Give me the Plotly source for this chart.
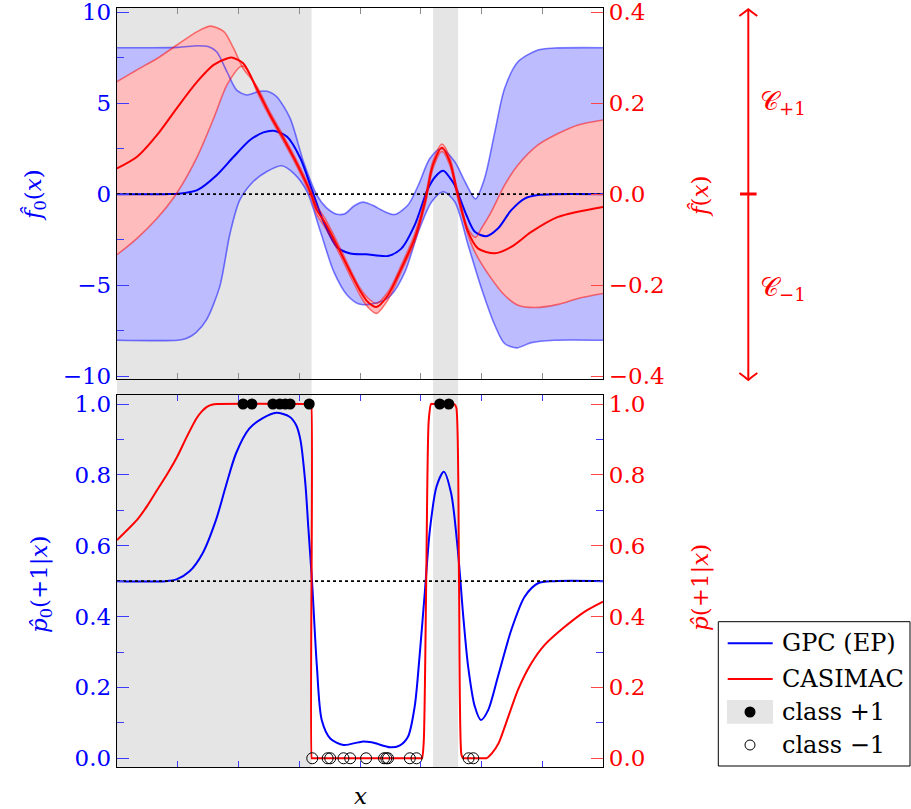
import plotly.graph_objects as go

# ---------------- data ----------------
shade_regions = [(0.0, 3.203), (5.203, 5.615)]

# top panel: GPC latent mean f0 and band (left axis)
x_f0_mean = [0, 0.8, 1.0, 1.32, 1.64, 1.92, 2.19, 2.41, 2.58, 2.8, 3.02, 3.21, 3.4, 3.62, 3.84, 4.1, 4.46,
             4.68, 4.9, 5.12, 5.25, 5.37, 5.48, 5.56, 5.73, 5.89, 6.08, 6.27, 6.49, 6.71, 6.93, 7.2, 8]
f0_mean = [0, 0, 0.02, 0.22, 1.04, 2.05, 2.97, 3.39, 3.48, 3.15, 1.96, 0.22, -1.52, -2.9, -3.26, -3.3, -3.39,
           -2.99, -1.70, 0.31, 1.0, 1.28, 0.9, 0.49, -0.97, -2.07, -2.31, -1.89, -0.88, -0.24, -0.05, 0, 0]

x_f0_upper = [0, 1.0, 1.32, 1.5, 1.64, 1.81, 1.97, 2.14, 2.3, 2.41, 2.52, 2.63, 2.85, 3.07, 3.29, 3.45, 3.62,
              3.75, 3.9, 4.05, 4.2, 4.4, 4.57, 4.79, 4.96, 5.15, 5.34, 5.56, 5.73, 5.9, 6.05, 6.22, 6.38, 6.6,
              6.93, 7.2, 8]
f0_upper = [8.04, 8.06, 8.15, 8.1, 7.82, 6.72, 5.71, 5.44, 5.6, 5.66, 5.6, 5.35, 4.16, 1.78, -0.05, -0.75, -1.1,
            -1.08, -0.65, -0.44, -0.6, -0.95, -1.12, -0.6, 0.49, 1.96, 2.51, 1.78, 0.68, -0.26, 0.86, 3.42, 5.8,
            7.27, 7.91, 8.02, 8.04]

x_f0_lower = [0, 1.0, 1.14, 1.3, 1.47, 1.69, 1.86, 2.02, 2.24, 2.46, 2.71, 2.91, 3.13, 3.35, 3.57, 3.79, 4.0,
              4.3, 4.51, 4.74, 4.96, 5.18, 5.37, 5.56, 5.78, 6.0, 6.22, 6.38, 6.58, 6.82, 7.2, 8]
f0_lower = [-8.02, -8.02, -7.93, -7.6, -6.92, -5.09, -2.16, -0.33, 0.68, 1.23, 1.56, 1.14, 0.13, -2.07, -4.27,
            -5.55, -6.05, -5.95, -5.55, -4.27, -2.07, -0.42, 0.13, -0.42, -2.8, -5.18, -7.2, -8.2, -8.44, -8.15,
            -8.02, -8.02]

# top panel: CASIMAC f and band (right axis)
x_f_mean = [0, 0.33, 0.66, 0.98, 1.32, 1.59, 1.81, 1.89, 2.08, 2.3, 2.52, 2.74, 2.96, 3.18, 3.29, 3.43, 3.62,
            3.84, 4.0, 4.13, 4.27, 4.46, 4.68, 4.9, 5.07, 5.2, 5.35, 5.48, 5.61, 5.78, 5.94, 6.22, 6.49, 6.82,
            7.26, 8]
f_mean = [0.0565, 0.082, 0.130, 0.188, 0.247, 0.284, 0.298, 0.300, 0.287, 0.232, 0.174, 0.122, 0.067, 0.005,
          -0.035, -0.064, -0.112, -0.171, -0.212, -0.237, -0.248, -0.222, -0.163, -0.097, -0.017, 0.064, 0.102,
          0.071, -0.002, -0.083, -0.119, -0.130, -0.116, -0.083, -0.050, -0.028]

x_f_upper = [0, 0.33, 0.66, 0.98, 1.32, 1.54, 1.76, 1.92, 2.08, 2.2, 2.3, 2.52, 2.74, 2.96, 3.18, 3.29, 3.43,
             3.62, 3.84, 4.0, 4.13, 4.27, 4.46, 4.68, 4.9, 5.07, 5.2, 5.35, 5.48, 5.61, 5.78, 5.9, 6.0, 6.16,
             6.38, 6.6, 6.93, 7.26, 7.59, 8]
f_upper = [0.247, 0.273, 0.298, 0.327, 0.357, 0.369, 0.357, 0.320, 0.275, 0.255, 0.237, 0.180, 0.128, 0.073,
           0.012, -0.026, -0.055, -0.104, -0.165, -0.206, -0.228, -0.240, -0.215, -0.156, -0.088, -0.008, 0.072,
           0.110, 0.080, 0.006, -0.076, -0.095, -0.075, -0.039, 0.020, 0.064, 0.108, 0.133, 0.152, 0.163]

x_f_lower = [0, 0.33, 0.66, 0.98, 1.32, 1.59, 1.81, 2.03, 2.1, 2.2, 2.3, 2.52, 2.74, 2.96, 3.18, 3.29, 3.43,
             3.62, 3.84, 4.0, 4.13, 4.27, 4.46, 4.68, 4.9, 5.07, 5.2, 5.35, 5.48, 5.61, 5.78, 5.89, 6.16, 6.38,
             6.6, 6.88, 7.26, 7.59, 8]
f_lower = [-0.133, -0.097, -0.053, 0.0015, 0.082, 0.166, 0.240, 0.280, 0.280, 0.260, 0.226, 0.168, 0.116, 0.061,
           -0.002, -0.045, -0.074, -0.120, -0.180, -0.222, -0.248, -0.262, -0.232, -0.170, -0.105, -0.025, 0.056,
           0.094, 0.063, -0.010, -0.090, -0.127, -0.185, -0.222, -0.244, -0.249, -0.242, -0.229, -0.218]

# bottom panel: probabilities
x_p0 = [0, 0.8, 0.98, 1.19, 1.41, 1.63, 1.79, 1.96, 2.18, 2.40, 2.62, 2.84, 2.95, 3.02, 3.1, 3.15, 3.21, 3.29,
        3.37, 3.51, 3.73, 4.03, 4.19, 4.5, 4.65, 4.79, 4.9, 4.98, 5.07, 5.15, 5.26, 5.38, 5.5, 5.61, 5.7, 5.78,
        5.89, 5.99, 6.11, 6.27, 6.49, 6.71, 6.93, 7.2, 8]
p0 = [0.5, 0.5, 0.505, 0.527, 0.579, 0.673, 0.767, 0.861, 0.931, 0.960, 0.975, 0.964, 0.94, 0.898, 0.776, 0.65,
      0.5, 0.26, 0.108, 0.056, 0.0375, 0.047, 0.045, 0.031, 0.036, 0.061, 0.146, 0.287, 0.475, 0.644, 0.767,
      0.809, 0.748, 0.588, 0.400, 0.259, 0.146, 0.108, 0.136, 0.230, 0.362, 0.456, 0.494, 0.5, 0.5]

x_p = [0, 0.16, 0.33, 0.5, 0.66, 0.83, 0.99, 1.15, 1.31, 1.4, 1.48, 1.56, 1.65, 3.19, 3.198, 3.206, 3.214,
       4.98, 5.02, 5.05, 5.09, 5.13, 5.17, 5.21, 5.55, 5.585, 5.63, 5.67, 5.70, 5.74, 6.04, 6.08, 6.17, 6.28,
       6.44, 6.60, 6.82, 7.04, 7.37, 7.70, 8]
p = [0.616, 0.643, 0.673, 0.713, 0.757, 0.803, 0.851, 0.908, 0.960, 0.980, 0.992, 0.998, 1.0, 1.0, 1.0, 0.0, 0.0,
     0.0, 0.0, 0.05, 0.5, 0.95, 1.0, 1.0, 1.0, 0.99, 0.5, 0.01, 0.0, 0.0, 0.0, 0.0, 0.014, 0.042, 0.117, 0.193,
     0.268, 0.320, 0.371, 0.414, 0.442]

x_class_pos = [2.075, 2.22, 2.566, 2.68, 2.77, 2.85, 3.164, 5.313, 5.461]
x_class_neg = [3.214, 3.467, 3.51, 3.728, 3.838, 4.10, 4.395, 4.433, 4.461, 4.82, 4.93, 5.788, 5.865]

left_ticks_top = [-10, -5, 0, 5, 10]
left_ticktext_top = ["\u221210", "\u22125", "0", "5", "10"]
right_ticks_top = [-0.4, -0.2, 0.0, 0.2, 0.4]
right_ticktext_top = ["\u22120.4", "\u22120.2", "0.0", "0.2", "0.4"]
p_ticks = [0, 0.2, 0.4, 0.6, 0.8, 1.0]
p_ticktext = ["0.0", "0.2", "0.4", "0.6", "0.8", "1.0"]

# ---------------- geometry helpers ----------------
W, H = 911, 809
L, R, T, B = 117, 308, 8, 42
PW, PH = W - L - R, H - T - B


def px(x):
    return (x - L) / PW


def py(y):
    return (H - B - y) / PH


FONT = "DejaVu Serif"
FS = 23
BLUE = "#0000ff"
RED = "#ff0000"
BLUE_FILL = "rgb(188,188,255)"
RED_FILL = "rgb(255,188,188)"
BLUE_EDGE = "rgba(0,0,255,0.5)"
RED_EDGE = "rgba(255,0,0,0.5)"
GREY = "#e5e5e5"

fig = go.Figure()

sp = dict(shape="spline", smoothing=0.8)

# --- top panel fills
fig.add_trace(go.Scatter(x=x_f0_lower, y=f0_lower, xaxis="x", yaxis="y", mode="lines",
                         line=dict(width=0, **sp), showlegend=False, hoverinfo="skip"))
fig.add_trace(go.Scatter(x=x_f0_upper, y=f0_upper, xaxis="x", yaxis="y", mode="lines", fill="tonexty",
                         fillcolor=BLUE_FILL, line=dict(width=0, **sp), showlegend=False, hoverinfo="skip"))
fig.add_trace(go.Scatter(x=x_f_lower, y=f_lower, xaxis="x", yaxis="y2", mode="lines",
                         line=dict(width=0, **sp), showlegend=False, hoverinfo="skip"))
fig.add_trace(go.Scatter(x=x_f_upper, y=f_upper, xaxis="x", yaxis="y2", mode="lines", fill="tonexty",
                         fillcolor=RED_FILL, line=dict(width=0, **sp), showlegend=False, hoverinfo="skip"))

# --- top panel blue lines (overlay axis y5 = same scale as y)
fig.add_trace(go.Scatter(x=x_f0_upper, y=f0_upper, xaxis="x", yaxis="y5", mode="lines",
                         line=dict(color=BLUE_EDGE, width=1.6, **sp), showlegend=False))
fig.add_trace(go.Scatter(x=x_f0_lower, y=f0_lower, xaxis="x", yaxis="y5", mode="lines",
                         line=dict(color=BLUE_EDGE, width=1.6, **sp), showlegend=False))
fig.add_trace(go.Scatter(x=x_f0_mean, y=f0_mean, xaxis="x", yaxis="y5", mode="lines",
                         line=dict(color=BLUE, width=2, **sp), name="GPC (EP)", showlegend=False))
fig.add_trace(go.Scatter(x=[0, 8], y=[0, 0], xaxis="x", yaxis="y5", mode="lines",
                         line=dict(color="black", width=1.6, dash="dot"), showlegend=False))

# --- top panel red lines (overlay axis y6 = same scale as y2)
fig.add_trace(go.Scatter(x=x_f_upper, y=f_upper, xaxis="x", yaxis="y6", mode="lines",
                         line=dict(color=RED_EDGE, width=1.6, **sp), showlegend=False))
fig.add_trace(go.Scatter(x=x_f_lower, y=f_lower, xaxis="x", yaxis="y6", mode="lines",
                         line=dict(color=RED_EDGE, width=1.6, **sp), showlegend=False))
fig.add_trace(go.Scatter(x=x_f_mean, y=f_mean, xaxis="x", yaxis="y6", mode="lines",
                         line=dict(color=RED, width=2, **sp), name="CASIMAC", showlegend=False))

# --- bottom panel
fig.add_trace(go.Scatter(x=x_p0, y=p0, xaxis="x2", yaxis="y3", mode="lines",
                         line=dict(color=BLUE, width=2, **sp), showlegend=False))
fig.add_trace(go.Scatter(x=[0, 8], y=[0.5, 0.5], xaxis="x2", yaxis="y3", mode="lines",
                         line=dict(color="black", width=1.6, dash="dot"), showlegend=False))
fig.add_trace(go.Scatter(x=x_p, y=p, xaxis="x2", yaxis="y4", mode="lines",
                         line=dict(color=RED, width=2, shape="spline", smoothing=0.6), showlegend=False))
fig.add_trace(go.Scatter(x=x_class_pos, y=[1.0] * len(x_class_pos), xaxis="x2", yaxis="y4", mode="markers",
                         marker=dict(color="black", size=11, line=dict(width=0)), cliponaxis=False,
                         showlegend=False))
fig.add_trace(go.Scatter(x=x_class_neg, y=[0.0] * len(x_class_neg), xaxis="x2", yaxis="y4", mode="markers",
                         marker=dict(symbol="circle-open", color="black", size=11, line=dict(width=1)),
                         cliponaxis=False, showlegend=False))

# ---------------- axes ----------------
top_dom = [py(379.3), 1.0]
bot_dom = [0.0, py(395.0)]
top_range = [-10.165, 10.22]
top_range_r = [v * 0.04 for v in top_range]
bot_range = [-0.0246, 1.0254]

xcommon = dict(range=[0, 8], tickvals=[1, 2, 3, 4, 5, 6, 7], showticklabels=False, ticks="inside",
               ticklen=6, tickwidth=1, showline=True, linecolor="black", linewidth=1.4, mirror="ticks",
               showgrid=False, zeroline=False, domain=[0, 1])
ycommon = dict(showgrid=False, zeroline=False, ticks="inside", ticklen=12, tickwidth=1, showline=True,
               linecolor="black", linewidth=1.4, ticklabelstandoff=0, ticklabeloverflow="allow")

fig.update_layout(
    width=W, height=H,
    margin=dict(l=L, r=R, t=T, b=B, pad=0, autoexpand=False),
    paper_bgcolor="white", plot_bgcolor="rgba(0,0,0,0)",
    showlegend=False,
    font=dict(family=FONT, size=FS),
    xaxis=dict(anchor="y", tickcolor="#8c8c8c", **xcommon),
    xaxis2=dict(anchor="y3", tickcolor="rgb(60,60,255)", **xcommon),
    yaxis=dict(domain=top_dom, anchor="x", range=top_range, tickvals=left_ticks_top,
               ticktext=left_ticktext_top, tickcolor="rgb(60,60,255)",
               minor=dict(tickvals=[-7.5, -2.5, 2.5, 7.5], ticks="inside", ticklen=7, tickcolor="rgb(60,60,255)"),
               tickfont=dict(family=FONT, size=FS, color=BLUE), **ycommon),
    yaxis2=dict(domain=top_dom, anchor="x", overlaying="y", side="right", range=top_range_r,
                tickvals=right_ticks_top, ticktext=right_ticktext_top, tickcolor="rgb(255,70,70)",
                tickfont=dict(family=FONT, size=FS, color=RED), **ycommon),
    yaxis5=dict(domain=top_dom, anchor="x", overlaying="y", range=top_range, visible=False),
    yaxis6=dict(domain=top_dom, anchor="x", overlaying="y", range=top_range_r, visible=False),
    yaxis3=dict(domain=bot_dom, anchor="x2", range=bot_range, tickvals=p_ticks, ticktext=p_ticktext,
                tickcolor="rgb(60,60,255)", mirror="ticks",
                minor=dict(tickvals=[0.1, 0.3, 0.5, 0.7, 0.9], ticks="inside", ticklen=7,
                           tickcolor="rgb(60,60,255)"),
                tickfont=dict(family=FONT, size=FS, color=BLUE), **ycommon),
    yaxis4=dict(domain=bot_dom, anchor="x2", overlaying="y3", side="right", range=bot_range,
                tickvals=p_ticks, ticktext=p_ticktext, tickcolor="rgb(255,70,70)",
                tickfont=dict(family=FONT, size=FS, color=RED), **ycommon),
)

shapes = []
for a, b in shade_regions:
    shapes.append(dict(type="rect", xref="x", yref="paper", x0=a, x1=b, y0=0, y1=1,
                       fillcolor=GREY, line=dict(width=0), layer="below"))

# class arrow on the right
ax = px(748.3)
shapes.append(dict(type="line", xref="paper", yref="paper", x0=ax, x1=ax, y0=py(10), y1=py(379.5),
                   line=dict(color=RED, width=2)))
shapes.append(dict(type="line", xref="paper", yref="paper", x0=px(740), x1=px(756.6), y0=py(194), y1=py(194),
                   line=dict(color=RED, width=3)))
shapes.append(dict(type="path", xref="paper", yref="paper",
                   path=f"M {px(739.3)},{py(16)} Q {px(745)},{py(12)} {ax},{py(9.3)} Q {px(751.6)},{py(12)} {px(757.3)},{py(16)}",
                   line=dict(color=RED, width=2)))
shapes.append(dict(type="path", xref="paper", yref="paper",
                   path=f"M {px(739.3)},{py(373)} Q {px(745)},{py(377)} {ax},{py(380)} Q {px(751.6)},{py(377)} {px(757.3)},{py(373)}",
                   line=dict(color=RED, width=2)))

# legend box (manual)
shapes.append(dict(type="rect", xref="paper", yref="paper", x0=px(718.3), x1=px(910), y0=py(766), y1=py(621.7),
                   fillcolor="white", line=dict(color="black", width=1)))
shapes.append(dict(type="line", xref="paper", yref="paper", x0=px(727.7), x1=px(772.7), y0=py(643.3),
                   y1=py(643.3), line=dict(color=BLUE, width=2)))
shapes.append(dict(type="line", xref="paper", yref="paper", x0=px(727.7), x1=px(772.7), y0=py(679),
                   y1=py(679), line=dict(color=RED, width=2)))
shapes.append(dict(type="rect", xref="paper", yref="paper", x0=px(727), x1=px(773), y0=py(723.7), y1=py(700),
                   fillcolor=GREY, line=dict(width=0)))
shapes.append(dict(type="circle", xref="paper", yref="paper", x0=px(750 - 5.5), x1=px(750 + 5.5),
                   y0=py(712 + 5.5), y1=py(712 - 5.5), fillcolor="black", line=dict(color="black", width=0)))
shapes.append(dict(type="circle", xref="paper", yref="paper", x0=px(750 - 5), x1=px(750 + 5),
                   y0=py(745 + 5), y1=py(745 - 5), fillcolor="white", line=dict(color="black", width=1)))
fig.update_layout(shapes=shapes)

ann = []


def add_text(text, x, y, color="black", angle=0, xanchor="center", size=FS):
    ann.append(dict(text=text, x=x, y=y, xref="paper", yref="paper", showarrow=False, textangle=angle,
                    xanchor=xanchor, yanchor="middle", font=dict(family=FONT, size=size, color=color)))


add_text("<i>f\u0302</i><sub>0</sub>(<i>x</i>)", px(35), py(195), BLUE, -90)
add_text("<i>p\u0302</i><sub>0</sub>(+1|<i>x</i>)", px(41), py(584), BLUE, -90)
add_text("<i>f\u0302</i>(<i>x</i>)", px(700), py(197), RED, -90)
add_text("<i>p\u0302</i>(+1|<i>x</i>)", px(700), py(588), RED, -90)
add_text("<i>x</i>", px(360), py(796))
add_text("\U0001D49E<sub>+1</sub>", px(758), py(103), RED, 0, "left", 26)
add_text("\U0001D49E<sub>\u22121</sub>", px(758), py(288), RED, 0, "left", 26)
add_text("GPC (EP)", px(780), py(643.3), xanchor="left", size=24)
add_text("CASIMAC", px(780), py(679), xanchor="left", size=24)
add_text("class +1", px(780), py(712), xanchor="left", size=24)
add_text("class \u22121", px(780), py(745), xanchor="left", size=24)
fig.update_layout(annotations=ann)

fig.write_html("out.html")
